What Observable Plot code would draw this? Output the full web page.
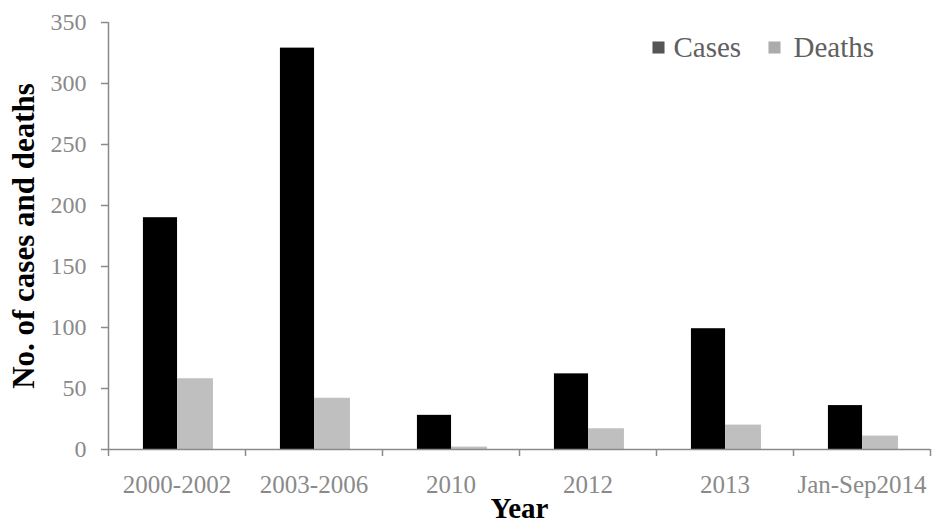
<!DOCTYPE html>
<html><head><meta charset="utf-8">
<script src="https://cdn.jsdelivr.net/npm/d3@7"></script>
<script src="https://cdn.jsdelivr.net/npm/@observablehq/plot@0.6"></script>
<style>
body{margin:0;background:#fff;}
#wrap{position:relative;width:945px;height:529px;}
svg g[aria-label="x-axis label"] text{fill:#000 !important;font-weight:bold;font-size:29px;}
svg g[aria-label="y-axis label"] text{fill:#000 !important;font-weight:bold;font-size:31px;}
</style></head><body><div id="wrap"></div>
<script>
const categories = ["2000-2002","2003-2006","2010","2012","2013","Jan-Sep2014"];
const cases = [190, 329, 28, 62, 99, 36];
const deaths = [58, 42, 2, 17, 20, 11];
const yTicks = [0, 50, 100, 150, 200, 250, 300, 350];
const seriesNames = ["Cases", "Deaths"];
const seriesColors = ["#000000", "#bfbfbf"];
const legendColors = ["#555555", "#ababab"];
const xTitle = "Year";
const yTitle = "No. of cases and deaths";

const W = 945, H = 529, mL = 108, mR = 15, mT = 22, mB = 80;
const bw = (W - mL - mR) / categories.length;
const casesRows = categories.map((c, i) => ({category: c, series: seriesNames[0], value: cases[i]}));
const deathsRows = categories.map((c, i) => ({category: c, series: seriesNames[1], value: deaths[i]}));

// legend layout (offsets from the frame's top-left corner)
const legendSwatchDx = [550, 666];
const legendTextDx = [565, 685];
const legendDy = 25;

const chart = Plot.plot({
  width: W, height: H,
  marginLeft: mL, marginRight: mR, marginTop: mT, marginBottom: mB,
  style: {fontFamily: "'Liberation Serif', 'Times New Roman', serif", background: "#fff", overflow: "visible"},
  x: {domain: categories, padding: 0, label: null},
  y: {domain: [0, 350], label: null},
  marks: [
    Plot.barY(casesRows, {x: "category", y: "value", fill: seriesColors[0], insetLeft: bw * 0.255, insetRight: bw * 0.496}),
    Plot.barY(deathsRows, {x: "category", y: "value", fill: seriesColors[1], insetLeft: bw * 0.504, insetRight: bw * 0.234}),
    Plot.ruleY([0], {stroke: "#8a8a8a", strokeWidth: 1.5}),
    Plot.ruleX([categories[0]], {dx: -bw / 2, y1: 0, y2: 350, stroke: "#8a8a8a", strokeWidth: 1.5}),
    Plot.axisY({ticks: yTicks, tickSize: 7, tickPadding: 15, fontSize: 24, stroke: "#8a8a8a", fill: "#8a8a8a", strokeWidth: 1.5,
      label: yTitle, labelAnchor: "center", labelArrow: "none", labelOffset: 97}),
    Plot.axisX({ticks: categories, tickSize: 7, tickFormat: () => "", dx: -bw / 2, stroke: "#8a8a8a", strokeWidth: 1.5, label: null}),
    Plot.axisX({ticks: [categories[categories.length - 1]], tickSize: 7, tickFormat: () => "", dx: bw / 2, stroke: "#8a8a8a", strokeWidth: 1.5, label: null}),
    Plot.axisX({ticks: categories, tickSize: 0, tickPadding: 26, fontSize: 25, fill: "#8a8a8a",
      label: xTitle, labelAnchor: "center", labelArrow: "none", labelOffset: 68}),
    // legend
    ...seriesNames.map((n, i) => Plot.dot([n], {frameAnchor: "top-left", dx: legendSwatchDx[i], dy: legendDy, symbol: "square", r: 6.8, fill: legendColors[i], stroke: "none"})),
    ...seriesNames.map((n, i) => Plot.text([n], {text: d => d, frameAnchor: "top-left", dx: legendTextDx[i], dy: legendDy, textAnchor: "start", lineAnchor: "middle", fontSize: 29, fill: "#606060"}))
  ]
});
document.getElementById("wrap").appendChild(chart);
</script>
</body></html>
